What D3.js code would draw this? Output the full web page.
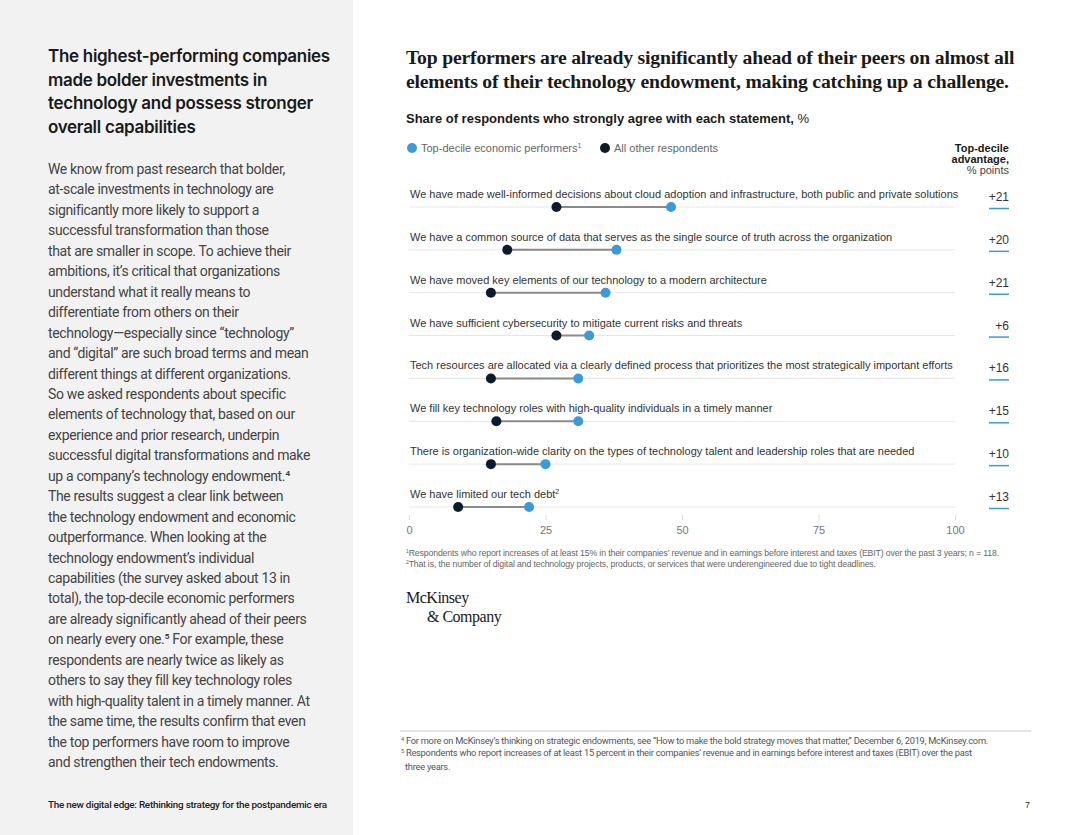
<!DOCTYPE html>
<html>
<head>
<meta charset="utf-8">
<script src="https://cdn.jsdelivr.net/npm/d3@7"></script>
<style>
  body { margin: 0; background: #fff; }
  svg { display: block; }
</style>
</head>
<body>
<svg width="1080" height="835"></svg>
<script>
// statements shown in the chart, top to bottom
const statements = [
  "We have made well-informed decisions about cloud adoption and infrastructure, both public and private solutions",
  "We have a common source of data that serves as the single source of truth across the organization",
  "We have moved key elements of our technology to a modern architecture",
  "We have sufficient cybersecurity to mitigate current risks and threats",
  "Tech resources are allocated via a clearly defined process that prioritizes the most strategically important efforts",
  "We fill key technology roles with high-quality individuals in a timely manner",
  "There is organization-wide clarity on the types of technology talent and leadership roles that are needed",
  "We have limited our tech debt"
];
const topDecile = [48, 38, 36, 33, 31, 31, 25, 22];
const allOthers = [27, 18, 15, 27, 15, 16, 15, 9];
const advantage = ["+21", "+20", "+21", "+6", "+16", "+15", "+10", "+13"];
const axisTicks = [0, 25, 50, 75, 100];

const leftHeading = [
  "The highest-performing companies",
  "made bolder investments in",
  "technology and possess stronger",
  "overall capabilities"
];
const leftBody = [
  "We know from past research that bolder,",
  "at-scale investments in technology are",
  "significantly more likely to support a",
  "successful transformation than those",
  "that are smaller in scope. To achieve their",
  "ambitions, it\u2019s critical that organizations",
  "understand what it really means to",
  "differentiate from others on their",
  "technology\u2014especially since \u201ctechnology\u201d",
  "and \u201cdigital\u201d are such broad terms and mean",
  "different things at different organizations.",
  "So we asked respondents about specific",
  "elements of technology that, based on our",
  "experience and prior research, underpin",
  "successful digital transformations and make",
  "up a company\u2019s technology endowment.\u2074",
  "The results suggest a clear link between",
  "the technology endowment and economic",
  "outperformance. When looking at the",
  "technology endowment\u2019s individual",
  "capabilities (the survey asked about 13 in",
  "total), the top-decile economic performers",
  "are already significantly ahead of their peers",
  "on nearly every one.\u2075 For example, these",
  "respondents are nearly twice as likely as",
  "others to say they fill key technology roles",
  "with high-quality talent in a timely manner. At",
  "the same time, the results confirm that even",
  "the top performers have room to improve",
  "and strengthen their tech endowments."
];

const blue = "#3d9ad6";
const dark = "#0c1a2e";
const sans = "'Liberation Sans', Arial, sans-serif";
const serif = "'Liberation Serif', 'Times New Roman', serif";

const svg = d3.select("svg");

// left grey panel
svg.append("rect").attr("x", 0).attr("y", 0).attr("width", 353).attr("height", 835).attr("fill", "#f3f2f2");

svg.append("g").selectAll("text").data(leftHeading).enter().append("text")
  .attr("x", 48).attr("y", (d, i) => 62 + i * 23.5)
  .attr("font-family", "Inter, sans-serif").attr("font-weight", 600)
  .attr("font-size", 17).attr("letter-spacing", -0.3).attr("fill", "#1a1a1a")
  .text(d => d);

svg.append("g").selectAll("text").data(leftBody).enter().append("text")
  .attr("x", 48).attr("y", (d, i) => 174 + i * 20.45)
  .attr("font-family", "Roboto, sans-serif")
  .attr("font-size", 14).attr("letter-spacing", -0.35).attr("fill", "#444")
  .text(d => d);

svg.append("text").attr("x", 48).attr("y", 808)
  .attr("font-family", "Roboto, sans-serif").attr("font-weight", 500)
  .attr("font-size", 9.9).attr("letter-spacing", -0.25).attr("fill", "#222")
  .text("The new digital edge: Rethinking strategy for the postpandemic era");

svg.append("text").attr("x", 1030).attr("y", 808).attr("text-anchor", "end")
  .attr("font-family", sans).attr("font-size", 9).attr("fill", "#333").text("7");

// chart title
const title = ["Top performers are already significantly ahead of their peers on almost all",
               "elements of their technology endowment, making catching up a challenge."];
svg.append("g").selectAll("text").data(title).enter().append("text")
  .attr("x", 406).attr("y", (d, i) => 64 + i * 24)
  .attr("font-family", serif).attr("font-weight", "bold")
  .attr("font-size", 19.7).attr("letter-spacing", -0.2).attr("fill", "#1a1a1a")
  .text(d => d);

const sub = svg.append("text").attr("x", 406).attr("y", 123)
  .attr("font-family", sans).attr("font-size", 13).attr("fill", "#1a1a1a");
sub.append("tspan").attr("font-weight", "bold").text("Share of respondents who strongly agree with each statement,");
sub.append("tspan").text(" %");

// legend
const legend = svg.append("g").attr("font-family", sans).attr("font-size", 11).attr("fill", "#666");
legend.append("circle").attr("cx", 412).attr("cy", 148).attr("r", 5).attr("fill", blue);
const lt = legend.append("text").attr("x", 421).attr("y", 152);
lt.append("tspan").text("Top-decile economic performers");
lt.append("tspan").attr("font-size", 7).attr("dy", -4).text("1");
legend.append("circle").attr("cx", 605).attr("cy", 148).attr("r", 5).attr("fill", dark);
legend.append("text").attr("x", 614).attr("y", 152).text("All other respondents");

const adv = svg.append("g").attr("font-family", sans).attr("font-size", 11).attr("text-anchor", "end").attr("fill", "#1a1a1a");
adv.append("text").attr("x", 1009).attr("y", 152).attr("font-weight", "bold").text("Top-decile");
adv.append("text").attr("x", 1009).attr("y", 163).attr("font-weight", "bold").text("advantage,");
adv.append("text").attr("x", 1009).attr("y", 174).attr("fill", "#444").text("% points");

// scales
const x = d3.scaleLinear().domain([0, 100]).range([409, 955]);
const y = d3.scalePoint().domain(d3.range(statements.length)).range([207, 507]);

const rows = svg.append("g").selectAll("g").data(statements).enter().append("g")
  .attr("transform", (d, i) => `translate(0,${y(i)})`);

rows.append("line").attr("x1", x(0)).attr("x2", x(100))
  .attr("stroke", "#e6e6e6").attr("stroke-width", 1);

const labels = rows.append("text").attr("x", 410).attr("y", -9)
  .attr("font-family", sans).attr("font-size", 11).attr("fill", "#333");
labels.append("tspan").text(d => d);
labels.filter((d, i) => i === statements.length - 1)
  .append("tspan").attr("font-size", 7).attr("dy", -4).text("2");

rows.append("line")
  .attr("x1", (d, i) => x(allOthers[i])).attr("x2", (d, i) => x(topDecile[i]))
  .attr("stroke", "#8a8a8a").attr("stroke-width", 2);
rows.append("circle").attr("cx", (d, i) => x(allOthers[i])).attr("r", 5).attr("fill", dark);
rows.append("circle").attr("cx", (d, i) => x(topDecile[i])).attr("r", 5).attr("fill", blue);

rows.append("text").attr("x", 1009).attr("y", -6).attr("text-anchor", "end")
  .attr("font-family", sans).attr("font-size", 12).attr("fill", "#333")
  .text((d, i) => advantage[i]);
rows.append("line").attr("x1", 989).attr("x2", 1009).attr("y1", 1.5).attr("y2", 1.5)
  .attr("stroke", blue).attr("stroke-width", 1.5);

// x axis
const axis = svg.append("g").attr("transform", "translate(0,515)")
  .call(d3.axisBottom(x).tickValues(axisTicks).tickSize(5).tickPadding(6));
axis.select(".domain").remove();
axis.selectAll(".tick line").attr("stroke", "#ddd");
axis.selectAll(".tick text").attr("font-family", sans).attr("font-size", 11).attr("fill", "#777");

// chart footnotes
const notes = [
  ["1", "Respondents who report increases of at least 15% in their companies\u2019 revenue and in earnings before interest and taxes (EBIT) over the past 3 years; n = 118."],
  ["2", "That is, the number of digital and technology projects, products, or services that were underengineered due to tight deadlines."]
];
const nt = svg.append("g").selectAll("text").data(notes).enter().append("text")
  .attr("x", 406).attr("y", (d, i) => 556 + i * 10.5)
  .attr("font-family", sans).attr("font-size", 8.7).attr("letter-spacing", -0.12).attr("fill", "#666");
nt.append("tspan").attr("font-size", 5).attr("dy", -3).text(d => d[0]);
nt.append("tspan").attr("dy", 3).text(d => d[1]);

// logo
const logo = svg.append("g").attr("font-family", serif).attr("font-size", 16)
  .attr("letter-spacing", -0.5).attr("fill", "#1a1a1a");
logo.append("text").attr("x", 406).attr("y", 603).text("McKinsey");
logo.append("text").attr("x", 427).attr("y", 622).text("& Company");

// page footnotes
svg.append("line").attr("x1", 400).attr("x2", 1031).attr("y1", 731).attr("y2", 731)
  .attr("stroke", "#bbb").attr("stroke-width", 0.8);
const pnotes = [
  ["4", "For more on McKinsey\u2019s thinking on strategic endowments, see \u201cHow to make the bold strategy moves that matter,\u201d December 6, 2019, McKinsey.com."],
  ["5", "Respondents who report increases of at least 15 percent in their companies\u2019 revenue and in earnings before interest and taxes (EBIT) over the past"],
  ["", "three years."]
];
const pn = svg.append("g").selectAll("text").data(pnotes).enter().append("text")
  .attr("x", 401).attr("y", (d, i) => 744 + i * 11.5)
  .attr("font-family", "Roboto, sans-serif").attr("font-size", 9.3).attr("letter-spacing", -0.25).attr("fill", "#555");
pn.append("tspan").attr("font-size", 5.5).attr("dy", -3).text(d => d[0]);
pn.append("tspan").attr("dy", 3).attr("x", (d) => d[0] ? null : 405).text(d => (d[0] ? " " : "") + d[1]);
</script>
</body>
</html>
